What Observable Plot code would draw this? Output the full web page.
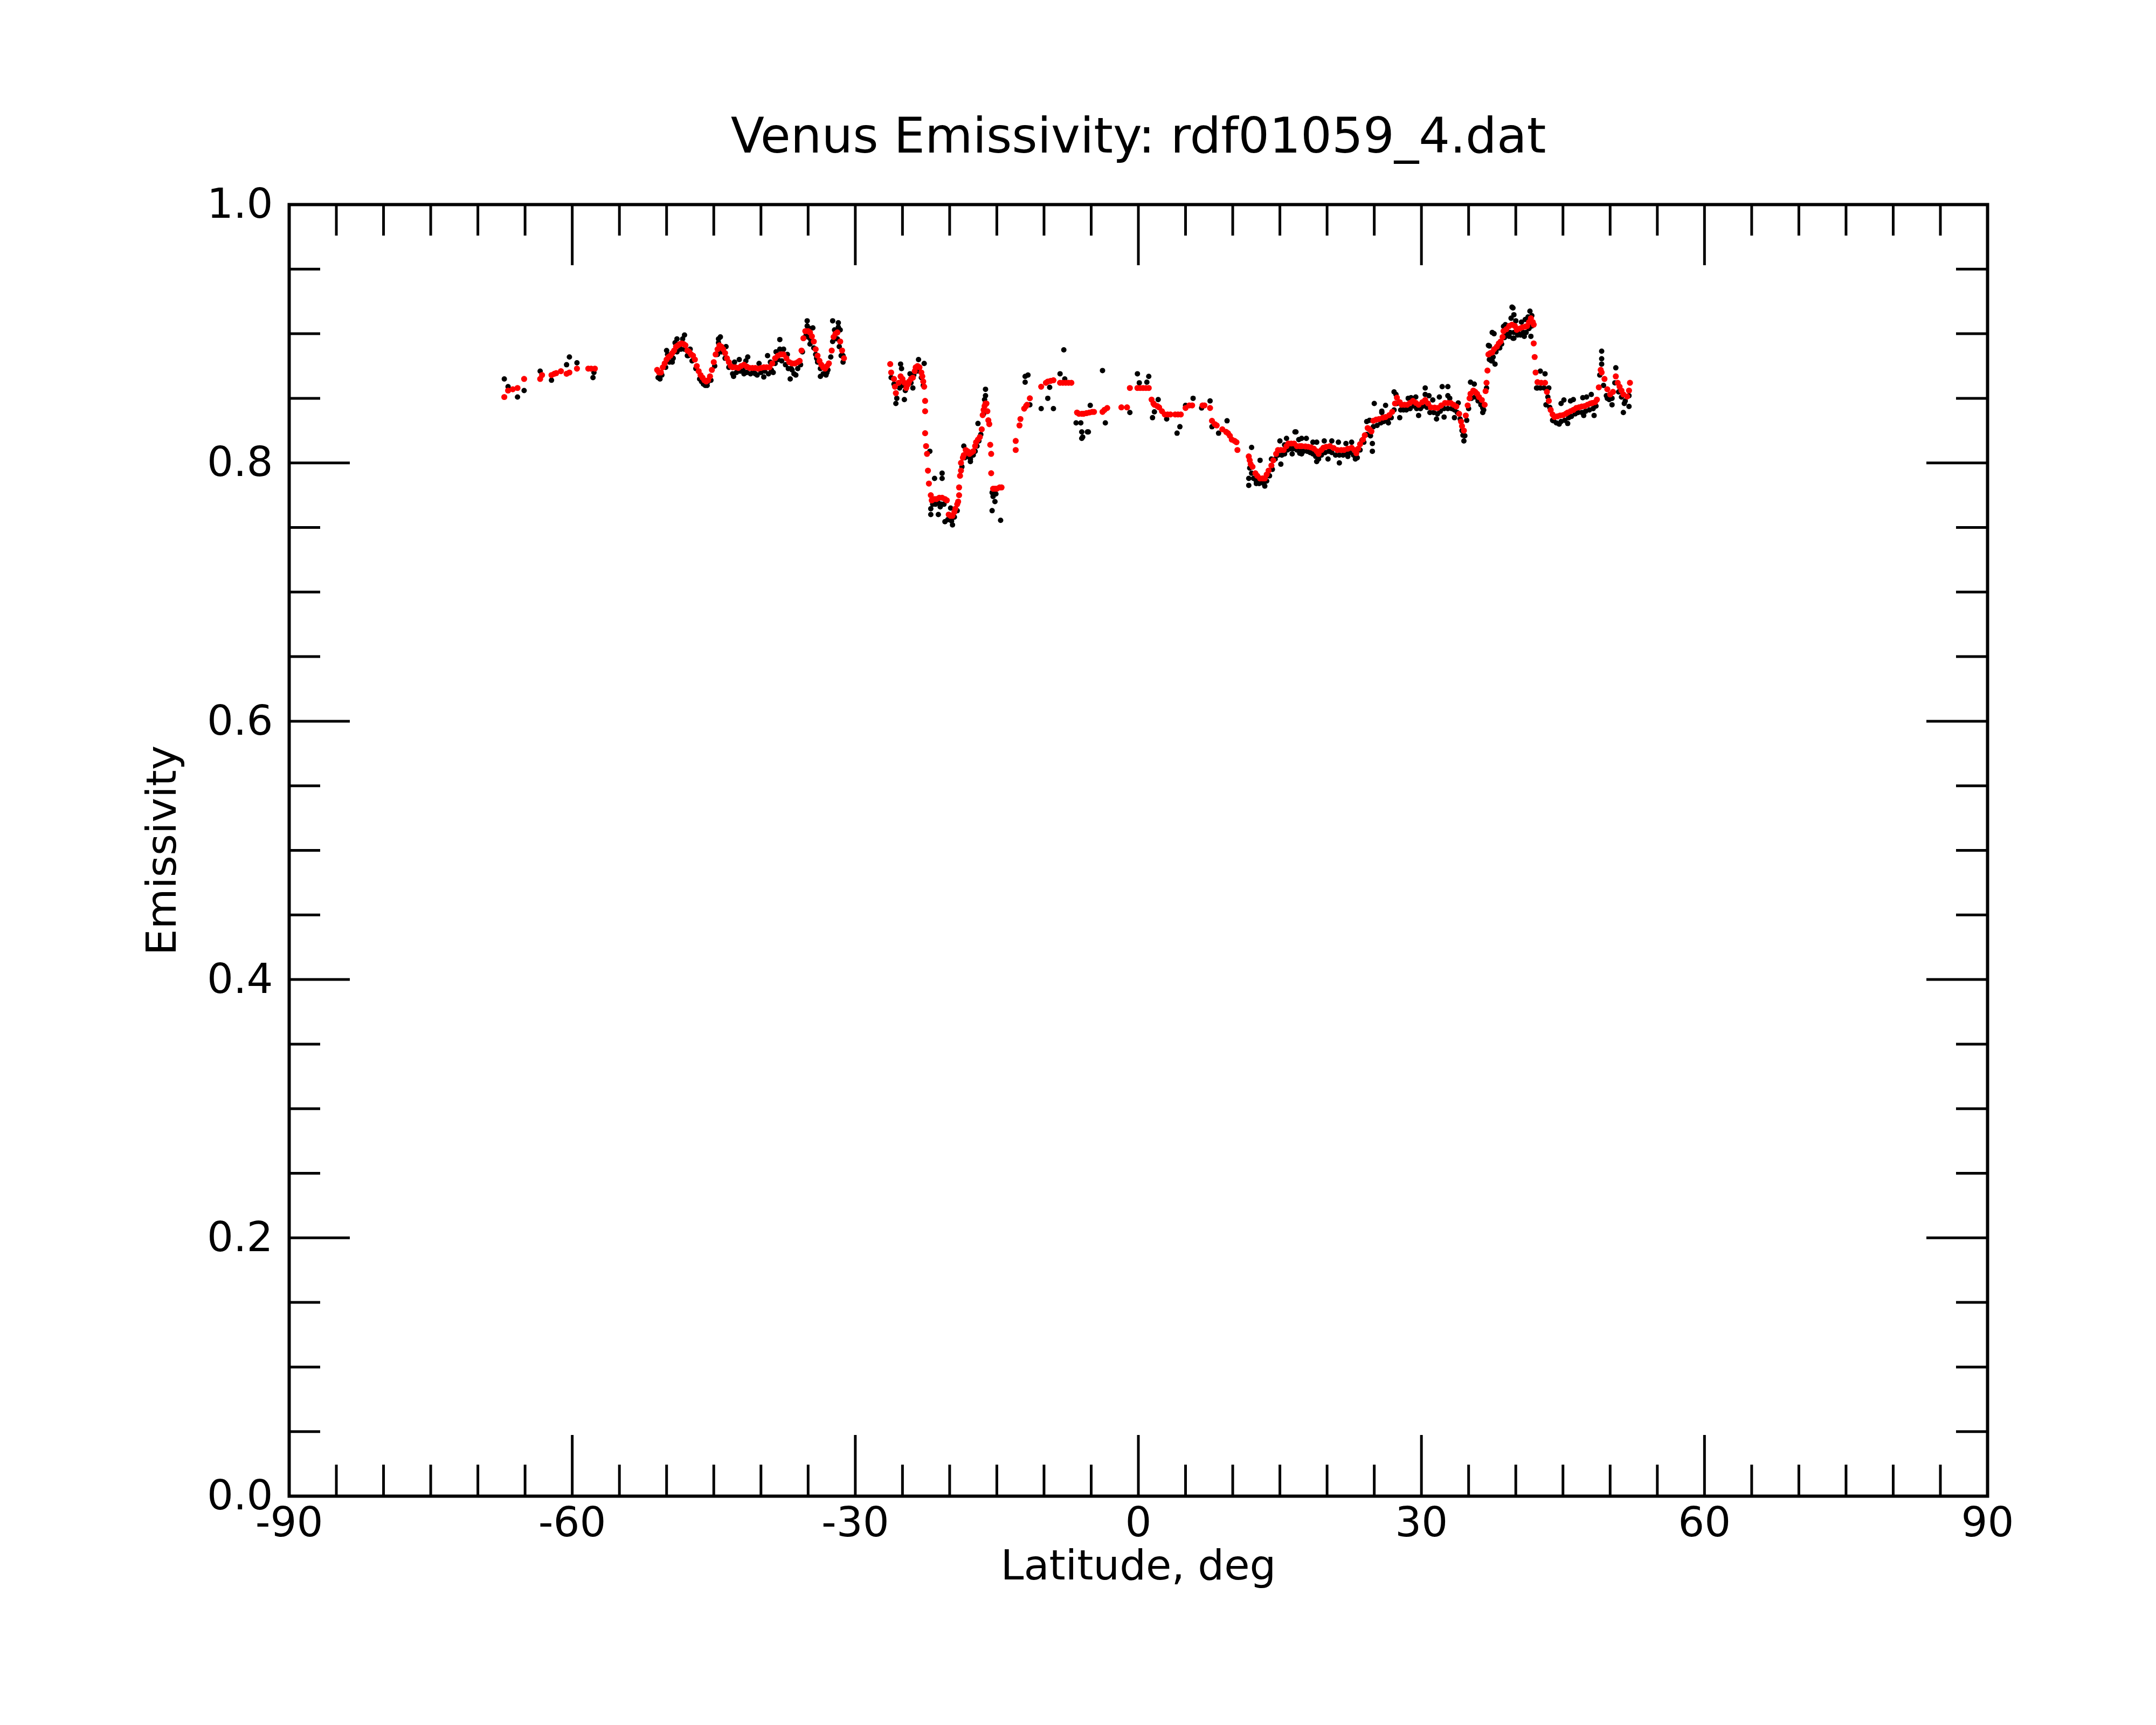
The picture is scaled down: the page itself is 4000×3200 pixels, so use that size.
<!DOCTYPE html>
<html>
<head>
<meta charset="utf-8">
<script src="https://cdn.jsdelivr.net/npm/d3@7"></script>
<script src="https://cdn.jsdelivr.net/npm/@observablehq/plot@0.6"></script>
<style>
  html, body { margin: 0; padding: 0; background: #fff; }
  #chart svg { display: block; }
</style>
</head>
<body>
<div id="chart"></div>
<script>
// ---------------- Text ----------------
const titleText = "Venus Emissivity: rdf01059_4.dat";
const xLabelText = "Latitude, deg";
const yLabelText = "Emissivity";

// ---------------- Ticks ----------------
const xTickLabels = [-90, -60, -30, 0, 30, 60, 90];
const xMajorTicks = [-60, -30, 0, 30, 60];
const xMinorTicks = [-85, -80, -75, -70, -65, -55, -50, -45, -40, -35, -25, -20, -15, -10, -5,
                     5, 10, 15, 20, 25, 35, 40, 45, 50, 55, 65, 70, 75, 80, 85];
const yTickLabels = [0.0, 0.2, 0.4, 0.6, 0.8, 1.0];
const yMajorTicks = [0.2, 0.4, 0.6, 0.8];
const yMinorTicks = [0.05, 0.1, 0.15, 0.25, 0.3, 0.35, 0.45, 0.5, 0.55, 0.65, 0.7, 0.75, 0.85, 0.9, 0.95];

// ---------------- Red (smoothed) series: [latitude, emissivity] ----------------
const redSegA = [
  [-67.2,0.851],[-66.8,0.856],[-66.3,0.857],[-65.8,0.858],[-65.1,0.865],[-63.4,0.865],[-63.2,0.868],
  [-62.2,0.868],[-61.9,0.869],[-61.7,0.8695],[-61.2,0.871],[-60.6,0.869],[-60.3,0.870],[-59.5,0.873],
  [-58.3,0.873],[-58.0,0.873],[-57.6,0.873]
];
const redSegB = [
  [-51.0,0.872],[-50.8,0.870],[-50.6,0.870],[-50.4,0.874],[-50.2,0.877],[-50.0,0.880],[-49.8,0.882],
  [-49.6,0.883],[-49.4,0.885],[-49.2,0.887],[-49.0,0.890],[-48.8,0.891],[-48.6,0.892],[-48.4,0.8925],
  [-48.2,0.892],[-48.0,0.891],[-47.8,0.887],[-47.6,0.886],[-47.4,0.884],[-47.2,0.883],[-47.0,0.880],
  [-46.8,0.875],[-46.6,0.871],[-46.4,0.868],[-46.2,0.866],[-46.0,0.864],[-45.8,0.863],[-45.6,0.864],
  [-45.4,0.867],[-45.2,0.872],[-45.0,0.878],[-44.8,0.884],[-44.6,0.888],[-44.4,0.891],[-44.2,0.890],
  [-44.0,0.888],[-43.8,0.885],[-43.6,0.881],[-43.4,0.878],[-43.2,0.875],[-43.0,0.874],[-42.7,0.874],
  [-42.4,0.8735],[-42.1,0.875],[-41.8,0.876],[-41.5,0.8745],[-41.2,0.8735],[-40.9,0.8735],[-40.6,0.8735],
  [-40.3,0.873],[-40.0,0.8735],[-39.7,0.874],[-39.4,0.874],[-39.1,0.874],[-38.8,0.877],[-38.5,0.881],
  [-38.2,0.883],[-37.9,0.884],[-37.6,0.884],[-37.3,0.881],[-37.0,0.878],[-36.7,0.877],[-36.4,0.877],
  [-36.1,0.878],[-35.9,0.879],[-35.7,0.887],[-35.5,0.8965],[-35.3,0.902],[-35.0,0.902],[-34.8,0.901],
  [-34.6,0.898],[-34.4,0.894],[-34.2,0.888],[-34.0,0.883],[-33.8,0.879],[-33.6,0.876],[-33.4,0.874],
  [-33.2,0.873],[-33.0,0.875],[-32.8,0.877],[-32.5,0.887],[-32.3,0.8975],[-32.1,0.900],[-31.9,0.901],
  [-31.6,0.894],[-31.4,0.887],[-31.2,0.881]
];
const redSegC = [
  [-26.3,0.8765],[-26.2,0.870],[-25.9,0.865],[-25.8,0.859],[-25.7,0.854],[-25.4,0.862],[-25.2,0.867],
  [-25.0,0.865],[-24.8,0.862],[-24.6,0.858],[-24.4,0.861],[-24.3,0.863],[-24.1,0.865],[-23.9,0.866],
  [-23.7,0.871],[-23.6,0.874],[-23.4,0.875],[-23.2,0.874],[-23.0,0.870],[-22.9,0.867],[-22.8,0.863],
  [-22.7,0.859],[-22.6,0.848],[-22.6,0.840],[-22.6,0.823],[-22.5,0.813],[-22.4,0.807],[-22.3,0.794],
  [-22.2,0.784],[-22.0,0.775],[-21.9,0.771],[-21.6,0.772],[-21.4,0.772],[-21.1,0.773],[-20.8,0.773],
  [-20.5,0.772],[-20.3,0.771],[-20.1,0.760],[-19.9,0.759],[-19.7,0.759],[-19.5,0.762],[-19.4,0.7645],
  [-19.2,0.768],[-19.1,0.770],[-19.0,0.775],[-19.0,0.781],[-18.9,0.790],[-18.8,0.794],[-18.8,0.800],
  [-18.6,0.804],[-18.5,0.806],[-18.3,0.810],[-18.1,0.809],[-17.9,0.807],[-17.7,0.808],[-17.5,0.809],
  [-17.3,0.813],[-17.2,0.816],[-17.0,0.818],[-16.8,0.820],[-16.6,0.826],[-16.5,0.837],[-16.4,0.841],
  [-16.3,0.844],[-16.2,0.846],[-16.1,0.846],[-16.0,0.840],[-15.9,0.833],[-15.8,0.830],[-15.7,0.814],
  [-15.6,0.807],[-15.6,0.792],[-15.4,0.780],[-15.2,0.780],[-15.0,0.780],[-14.7,0.781],[-14.5,0.781]
];
const redSegD = [
  [-13.0,0.810],[-13.0,0.817],[-12.6,0.829],[-12.5,0.834],[-12.1,0.842],[-11.9,0.844],[-11.8,0.845],
  [-11.5,0.850],[-10.3,0.859],[-9.8,0.862],[-9.6,0.863],[-9.3,0.8635],[-9.0,0.864],[-8.3,0.862],
  [-8.0,0.862],[-7.7,0.862],[-7.4,0.862],[-7.1,0.862],[-6.5,0.839],[-6.3,0.838],[-6.0,0.838],
  [-5.8,0.838],[-5.5,0.8385],[-5.2,0.839],[-4.9,0.8395],[-4.7,0.8395],[-3.8,0.8395],[-3.6,0.841],
  [-3.3,0.8425],[-1.8,0.843],[-1.2,0.843],[-0.9,0.858],[-0.1,0.858],[0.2,0.858],[0.5,0.858],
  [0.8,0.858],[1.1,0.858],[1.4,0.849],[1.6,0.846],[1.7,0.845],[2.0,0.844],[2.2,0.843],[2.5,0.840],
  [2.8,0.8375],[3.1,0.8375],[3.4,0.8375],[3.9,0.8375],[4.2,0.8375],[4.5,0.8375],[5.0,0.8425],
  [5.4,0.8445],[5.7,0.8445],[6.8,0.8445],[7.0,0.8445],[7.6,0.8425],[7.8,0.8326],[8.1,0.830],
  [8.3,0.829],[8.9,0.826],[9.3,0.824],[9.5,0.823],[9.7,0.821],[9.9,0.818],[10.2,0.817],[10.4,0.816],
  [10.5,0.810]
];
const redSegE = [
  [11.7,0.805],[11.8,0.802],[11.9,0.799],[12.1,0.797],[12.4,0.792],[12.6,0.790],[12.9,0.788],
  [13.2,0.788],[13.4,0.788],[13.6,0.791],[13.8,0.794],[14.1,0.798],[14.3,0.802],[14.6,0.807],
  [14.8,0.810],[15.1,0.810],[15.4,0.810],[15.7,0.813],[15.9,0.815],[16.2,0.815],[16.5,0.815],
  [16.8,0.813],[17.1,0.813],[17.3,0.813],[17.7,0.8128],[18.0,0.8125],[18.3,0.812],[18.6,0.811],
  [18.9,0.809],[19.1,0.807],[19.4,0.810],[19.6,0.8117],[19.9,0.8125],[20.3,0.813],[20.7,0.8115],
  [21.1,0.810],[21.5,0.810],[21.8,0.810],[22.2,0.811],[22.6,0.8117],[22.9,0.810],[23.1,0.8075],
  [23.3,0.811],[23.5,0.8145],[23.8,0.818],[24.0,0.8214],[24.3,0.827],[24.5,0.826],[24.7,0.8244],
  [24.9,0.8326],[25.2,0.8335],[25.5,0.834],[25.9,0.835],[26.2,0.8355],[26.6,0.837],[26.9,0.8395],
  [27.2,0.846],[27.4,0.8505],[27.7,0.847],[27.9,0.845],[28.2,0.845],[28.5,0.845],[28.8,0.8465],
  [29.1,0.848],[29.4,0.8465],[29.7,0.845],[30.1,0.847],[30.4,0.8487],[30.7,0.846],[31.0,0.843],
  [31.4,0.8428],[31.7,0.8425],[32.1,0.8445],[32.5,0.8464],[32.8,0.8464],[33.1,0.8464],[33.4,0.845],
  [33.7,0.8437],[34.0,0.838],[34.2,0.832],[34.3,0.8285],[34.5,0.825],[34.7,0.8367],[34.9,0.8445],
  [35.1,0.850],[35.2,0.8535],[35.5,0.856],[35.7,0.855],[35.9,0.8535],[36.1,0.851],[36.4,0.8487],
  [36.7,0.845],[36.8,0.8556],[36.9,0.862],[37.0,0.8715],[37.1,0.884],[37.3,0.885],[37.5,0.8855],
  [37.7,0.888],[38.0,0.890],[38.2,0.8925],[38.4,0.894],[38.6,0.8975],[38.7,0.902],[39.0,0.9035],
  [39.3,0.906],[39.6,0.907],[39.9,0.906],[40.1,0.903],[40.4,0.904],[40.7,0.905],[41.0,0.9055],
  [41.2,0.906],[41.4,0.909],[41.6,0.912],[41.8,0.909],[41.9,0.907],[41.9,0.8925],[42.0,0.882],
  [42.1,0.870],[42.3,0.8625],[42.7,0.862],[43.1,0.862],[43.3,0.855],[43.5,0.848],[43.7,0.841],
  [43.9,0.8375],[44.1,0.8355],[44.4,0.836],[44.7,0.8367],[45.0,0.837],[45.3,0.838],[45.5,0.839],
  [45.8,0.840],[46.1,0.841],[46.4,0.8425],[46.7,0.843],[47.0,0.8437],[47.3,0.844],[47.6,0.845],
  [47.9,0.846],[48.1,0.8464],[48.4,0.847],[48.6,0.849],[48.8,0.8585],[49.0,0.872],[49.1,0.870],
  [49.4,0.865],[49.7,0.857],[50.0,0.853],[50.3,0.855],[50.6,0.867],[50.8,0.862],[51.0,0.859],
  [51.2,0.856],[51.4,0.853],[51.8,0.8514],[52.0,0.856],[52.1,0.862]
];

// ---------------- Black (raw) series: [latitude, emissivity] ----------------
const blackSegA = [
  [-67.2,0.865],[-66.8,0.859],[-65.8,0.851],[-65.1,0.856],[-63.4,0.871],[-62.2,0.864],[-60.6,0.876],
  [-60.3,0.882],[-59.5,0.8775],[-57.8,0.866],[-57.7,0.870]
];
const blackSegB = [
  [-50.7,0.865],[-50.0,0.887],[-49.4,0.878],[-48.9,0.896],[-48.1,0.899],[-47.5,0.888],[-47.8,0.883],
  [-46.3,0.863],[-45.9,0.860],[-45.6,0.863],[-44.3,0.8975],[-44.5,0.896],[-43.7,0.890],[-42.9,0.867],
  [-42.3,0.880],[-41.4,0.882],[-41.8,0.869],[-40.6,0.869],[-39.7,0.8665],[-39.3,0.883],[-38.7,0.870],
  [-38.0,0.8955],[-38.0,0.888],[-37.6,0.888],[-36.8,0.873],[-36.9,0.865],[-36.3,0.868],[-35.1,0.910],
  [-34.5,0.9045],[-34.8,0.892],[-34.1,0.881],[-33.7,0.867],[-33.0,0.870],[-32.4,0.910],[-31.8,0.9085],
  [-31.6,0.903],[-32.1,0.8965],[-31.3,0.883],
  [-50.9,0.866],[-50.5,0.868],[-50.1,0.874],[-49.7,0.878],[-49.3,0.881],[-48.9,0.886],[-48.5,0.888],
  [-48.1,0.888],[-47.7,0.883],[-47.3,0.879],[-46.9,0.873],[-46.5,0.865],[-46.1,0.861],[-45.7,0.860],
  [-45.3,0.864],[-44.9,0.875],[-44.6,0.884],[-44.2,0.886],[-43.8,0.881],[-43.4,0.874],[-43.0,0.869],
  [-42.6,0.870],[-42.2,0.871],[-41.9,0.872],[-41.5,0.870],[-41.1,0.869],[-40.8,0.871],[-40.4,0.868],
  [-40.0,0.870],[-39.6,0.871],[-39.2,0.869],[-38.9,0.872],[-38.5,0.877],[-38.2,0.880],[-37.8,0.879],
  [-37.4,0.876],[-37.1,0.873],[-36.7,0.872],[-36.5,0.869],[-36.1,0.873],[-35.8,0.876],[-35.6,0.886],
  [-35.4,0.897],[-35.2,0.899],[-34.9,0.897],[-34.7,0.895],[-34.4,0.889],[-34.2,0.884],[-34.0,0.878],
  [-33.7,0.873],[-33.4,0.869],[-33.1,0.868],[-32.9,0.872],[-32.6,0.882],[-32.4,0.894],[-32.2,0.896],
  [-31.9,0.896],[-31.7,0.890],[-31.5,0.883],[-31.3,0.878],
  [-49.9,0.884],[-49.1,0.893],[-48.3,0.896],[-44.5,0.893],[-42.8,0.878],[-41.6,0.879],[-40.2,0.877],
  [-39.0,0.878],[-38.4,0.886],[-37.2,0.884],[-35.1,0.906],[-34.8,0.904],[-32.2,0.903],[-31.8,0.905]
];
const blackSegC = [
  [-25.7,0.846],[-24.8,0.849],[-25.2,0.8765],[-25.1,0.873],[-24.2,0.869],[-23.9,0.858],[-23.3,0.880],
  [-22.7,0.877],[-22.1,0.809],[-21.6,0.788],[-20.8,0.792],[-20.8,0.788],[-22.0,0.760],[-22.0,0.7645],
  [-21.2,0.760],[-21.0,0.766],[-20.5,0.7545],[-19.7,0.752],[-19.9,0.765],[-17.0,0.8305],[-17.8,0.801],
  [-18.5,0.813],[-16.2,0.857],[-16.2,0.852],[-15.4,0.774],[-15.2,0.770],[-15.5,0.763],[-14.6,0.7555],
  [-26.2,0.866],[-25.9,0.861],[-25.6,0.850],[-25.3,0.858],[-25.0,0.860],[-24.7,0.856],[-24.5,0.860],
  [-24.1,0.862],[-23.8,0.868],[-23.5,0.871],[-23.2,0.871],[-23.0,0.866],[-22.8,0.860],
  [-21.8,0.768],[-21.5,0.768],[-21.2,0.769],[-20.9,0.768],[-20.6,0.768],[-20.2,0.756],[-19.8,0.755],
  [-19.5,0.758],[-19.2,0.763],
  [-18.7,0.797],[-18.4,0.804],[-18.1,0.805],[-17.8,0.803],[-17.5,0.806],[-17.3,0.809],[-17.1,0.813],
  [-16.9,0.817],[-16.7,0.822],[-16.4,0.838],[-16.3,0.849],[-15.5,0.777],[-15.1,0.776]
];
const blackSegD = [
  [-12.0,0.867],[-11.7,0.868],[-12.0,0.8625],[-11.5,0.845],[-10.3,0.842],[-9.6,0.850],[-9.4,0.8585],
  [-9.0,0.842],[-8.3,0.869],[-7.9,0.8875],[-7.8,0.865],[-6.6,0.831],[-6.1,0.831],[-6.0,0.824],
  [-5.9,0.820],[-5.3,0.824],[-5.4,0.824],[-6.0,0.819],[-5.1,0.8445],[-3.8,0.8715],[-3.5,0.831],
  [-0.9,0.839],[-0.1,0.869],[0.1,0.862],[1.1,0.867],[0.9,0.8625],[1.5,0.835],[1.7,0.8395],[2.1,0.849],
  [3.0,0.834],[4.1,0.823],[4.4,0.828],[5.0,0.8445],[5.8,0.850],[6.7,0.8425],[7.6,0.848],[7.8,0.828],
  [8.5,0.823],[9.4,0.8326]
];
const blackSegE = [
  [12.0,0.812],[11.7,0.7826],[11.7,0.788],[12.5,0.784],[13.4,0.782],[12.9,0.802],[14.1,0.803],
  [15.0,0.817],[15.1,0.799],[15.7,0.819],[16.6,0.824],[16.3,0.807],[17.3,0.819],[17.3,0.807],
  [16.7,0.824],[17.1,0.8075],[17.8,0.819],[18.9,0.816],[18.9,0.801],[19.7,0.817],[20.1,0.803],
  [21.3,0.800],[21.2,0.816],[22.2,0.805],[23.0,0.803],[22.6,0.816],[23.7,0.8175],[24.2,0.832],
  [24.8,0.815],[24.8,0.809],[25.0,0.846],[25.8,0.839],[26.2,0.8445],[26.5,0.831],[27.1,0.855],
  [27.7,0.835],[28.9,0.8505],[29.7,0.8367],[30.4,0.858],[30.4,0.853],[31.2,0.8487],[31.6,0.834],
  [32.2,0.859],[32.8,0.859],[32.8,0.852],[32.4,0.8355],[33.5,0.835],[33.9,0.8464],[34.4,0.8214],
  [34.5,0.817],[35.2,0.8625],[35.6,0.861],[36.5,0.8425],[36.5,0.839],[37.2,0.8905],[37.5,0.879],
  [37.8,0.8765],[37.7,0.900],[38.0,0.8885],[38.7,0.9057],[39.0,0.900],[39.7,0.920],[39.7,0.8965],
  [40.3,0.900],[39.6,0.9206],[39.8,0.9147],[41.5,0.9175],[41.7,0.914],[39.3,0.898],[39.8,0.8965],
  [40.9,0.898],[41.6,0.898],[37.5,0.901],[37.4,0.879],[37.1,0.891],[42.6,0.871],[43.1,0.869],
  [42.3,0.858],[43.2,0.845],[44.0,0.8326],[44.6,0.830],[45.1,0.8487],[45.5,0.8305],[45.8,0.848],
  [47.2,0.8367],[47.1,0.8505],[48.0,0.853],[48.3,0.8367],[49.1,0.8865],[49.1,0.8806],[49.1,0.8765],
  [50.2,0.845],[50.6,0.8736],[49.7,0.850],[51.5,0.846],[51.4,0.839],[52.0,0.8437],
  [11.8,0.796],[12.0,0.792],[12.2,0.788],[12.5,0.786],[12.8,0.784],[13.1,0.785],[13.3,0.784],
  [13.6,0.786],[13.9,0.790],[14.2,0.795],[14.5,0.803],[14.8,0.806],[15.2,0.806],[15.5,0.807],
  [15.8,0.810],[16.1,0.811],[16.4,0.811],[16.8,0.810],[17.1,0.810],[17.5,0.809],[17.9,0.809],
  [18.2,0.808],[18.5,0.807],[18.8,0.805],[19.1,0.803],[19.4,0.806],[19.8,0.808],[20.2,0.809],
  [20.5,0.808],[20.9,0.806],[21.3,0.806],[21.7,0.806],[22.0,0.807],[22.4,0.808],[22.8,0.806],
  [23.2,0.804],[23.5,0.810],[23.9,0.816],[24.2,0.822],[24.6,0.821],[24.9,0.828],[25.3,0.829],
  [25.7,0.831],[26.0,0.832],[26.4,0.833],[26.8,0.835],[27.1,0.841],[27.4,0.846],[27.8,0.841],
  [28.1,0.841],[28.4,0.841],[28.8,0.842],[29.2,0.844],[29.5,0.842],[29.9,0.842],[30.2,0.844],
  [30.6,0.843],[30.9,0.839],[31.3,0.839],[31.7,0.838],[32.0,0.840],[32.4,0.842],[32.8,0.842],
  [33.2,0.842],[33.5,0.841],[33.8,0.839],[34.1,0.834],[34.3,0.825],[34.6,0.821],[34.8,0.833],
  [35.0,0.842],[35.3,0.850],[35.7,0.851],[36.0,0.848],[36.3,0.845],[36.6,0.841],[36.9,0.858],
  [37.2,0.880],[37.6,0.882],[37.9,0.886],[38.3,0.889],[38.5,0.892],[38.8,0.897],[39.1,0.899],
  [39.4,0.901],[39.8,0.901],[40.2,0.899],[40.5,0.899],[40.8,0.901],[41.1,0.901],[41.4,0.904],
  [41.7,0.906],
  [38.9,0.907],[39.5,0.912],[40.0,0.910],[40.6,0.909],[41.0,0.911],[41.3,0.913],[27.3,0.853],
  [28.6,0.850],[29.4,0.851],[30.8,0.852],[31.9,0.851],[33.0,0.850],[24.5,0.833],[25.8,0.840],
  [17.0,0.818],[15.5,0.814],[18.5,0.816],[20.5,0.817],[22.0,0.815],
  [42.2,0.858],[42.6,0.858],[43.0,0.858],[43.4,0.851],[43.6,0.843],[43.9,0.833],[44.3,0.831],
  [44.8,0.832],[45.2,0.833],[45.6,0.835],[45.9,0.836],[46.3,0.838],[46.6,0.839],[47.0,0.839],
  [47.4,0.840],[47.8,0.841],[48.2,0.842],[48.5,0.844],[48.9,0.868],[49.3,0.860],[49.6,0.852],
  [49.9,0.849],[50.2,0.850],[50.5,0.862],[50.9,0.855],[51.2,0.851],[51.6,0.848],[52.0,0.852],
  [44.8,0.846],[46.1,0.849],[47.5,0.851],[43.5,0.858]
];

// ---------------- Build tables ----------------
const toRows = segs => segs.flat().map(([lat, em]) => ({lat, em}));
const redRows = toRows([redSegA, redSegB, redSegC, redSegD, redSegE]);
const blackRows = toRows([blackSegA, blackSegB, blackSegC, blackSegD, blackSegE]);

// ---------------- Layout ----------------
const W = 4000, H = 3200;
const mL = 536, mR = 313, mT = 379, mB = 425;
const fW = W - mL - mR, fH = H - mT - mB;
const minorLen = 58, majorLen = 113;
const font = "DejaVu Sans";
const tickFont = 77;
const ink = "#000";
const tw = 5;

const chart = Plot.plot({
  width: W,
  height: H,
  marginLeft: mL, marginRight: mR, marginTop: mT, marginBottom: mB,
  style: {fontFamily: font, fontSize: tickFont + "px", color: ink, background: "#fff"},
  x: {domain: [-90, 90]},
  y: {domain: [0, 1]},
  marks: [
    // inward ticks (bottom / top)
    Plot.tickX(xMinorTicks, {x: d => d, insetTop: fH - minorLen, stroke: ink, strokeWidth: tw}),
    Plot.tickX(xMinorTicks, {x: d => d, insetBottom: fH - minorLen, stroke: ink, strokeWidth: tw}),
    Plot.tickX(xMajorTicks, {x: d => d, insetTop: fH - majorLen, stroke: ink, strokeWidth: tw}),
    Plot.tickX(xMajorTicks, {x: d => d, insetBottom: fH - majorLen, stroke: ink, strokeWidth: tw}),
    // inward ticks (left / right)
    Plot.tickY(yMinorTicks, {y: d => d, insetRight: fW - minorLen, stroke: ink, strokeWidth: tw}),
    Plot.tickY(yMinorTicks, {y: d => d, insetLeft: fW - minorLen, stroke: ink, strokeWidth: tw}),
    Plot.tickY(yMajorTicks, {y: d => d, insetRight: fW - majorLen, stroke: ink, strokeWidth: tw}),
    Plot.tickY(yMajorTicks, {y: d => d, insetLeft: fW - majorLen, stroke: ink, strokeWidth: tw}),
    Plot.frame({stroke: ink, strokeWidth: 6}),
    // tick labels
    Plot.axisX(xTickLabels, {anchor: "bottom", tickSize: 0, tickPadding: 20, label: null,
      fontSize: tickFont, fontFamily: font, fill: ink, tickFormat: d => String(d)}),
    Plot.axisY(yTickLabels, {anchor: "left", tickSize: 0, tickPadding: 30, label: null,
      fontSize: tickFont, fontFamily: font, fill: ink, tickFormat: d => d.toFixed(1)}),
    // data
    Plot.dot(blackRows, {x: "lat", y: "em", r: 5, fill: "#000", stroke: "none"}),
    Plot.dot(redRows, {x: "lat", y: "em", r: 5.6, fill: "#ff0000", stroke: "none"}),
    // title and axis labels
    Plot.text([titleText], {text: d => d, frameAnchor: "top", dy: -97, textAnchor: "middle",
      lineAnchor: "bottom", fontSize: 91, fontFamily: font, fill: ink}),
    Plot.text([xLabelText], {text: d => d, frameAnchor: "bottom", dy: 130, textAnchor: "middle",
      lineAnchor: "middle", fontSize: tickFont, fontFamily: font, fill: ink}),
    Plot.text([yLabelText], {text: d => d, frameAnchor: "left", dx: -235, rotate: -90,
      textAnchor: "middle", lineAnchor: "middle", fontSize: tickFont, fontFamily: font, fill: ink})
  ]
});
document.getElementById("chart").appendChild(chart);
</script>
</body>
</html>
